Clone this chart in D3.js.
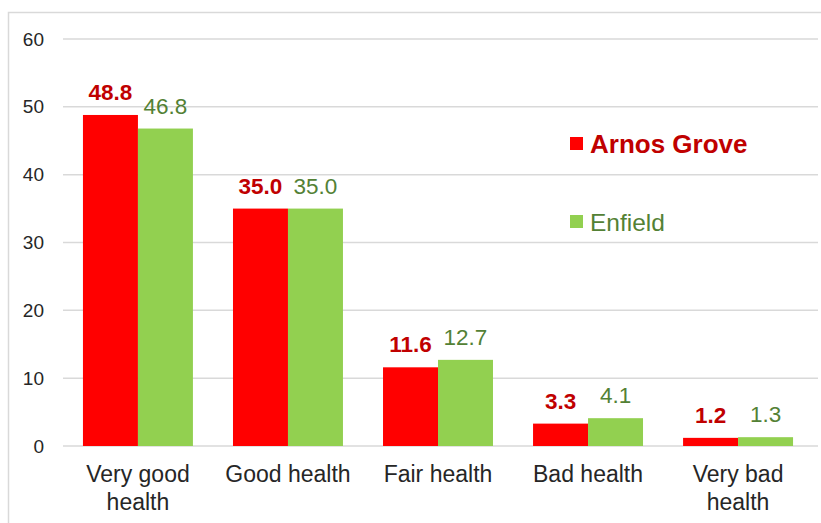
<!DOCTYPE html>
<html>
<head>
<meta charset="utf-8">
<script src="https://cdn.jsdelivr.net/npm/d3@7"></script>
<style>
  body { margin: 0; background: #fff; }
  svg { display: block; font-family: "Liberation Sans", Arial, sans-serif; }
</style>
</head>
<body>
<div id="chart"></div>
<script>
// data
var categories = ['Very good health', 'Good health', 'Fair health', 'Bad health', 'Very bad health'];
var categoryLines = [['Very good', 'health'], ['Good health'], ['Fair health'], ['Bad health'], ['Very bad', 'health']];
var seriesNames = ['Arnos Grove', 'Enfield'];
var arnosGrove = [48.8, 35.0, 11.6, 3.3, 1.2];
var enfield = [46.8, 35.0, 12.7, 4.1, 1.3];
var yTicks = [0, 10, 20, 30, 40, 50, 60];

var attrs = {
    svgWidth: 821,
    svgHeight: 523,
    plotLeft: 63,
    plotRight: 813,
    plotTop: 39,
    plotBottom: 446,
    barColors: ['#ff0000', '#92d050'],
    labelColors: ['#c00000', '#538135']
};

var svg = d3.select('#chart')
    .append('svg')
    .attr('width', attrs.svgWidth)
    .attr('height', attrs.svgHeight);

// outer frame
svg.append('rect')
    .attr('x', 8.5)
    .attr('y', 12.5)
    .attr('width', 900)
    .attr('height', 600)
    .attr('fill', 'none')
    .attr('stroke', '#d9d9d9')
    .attr('stroke-width', 1.5);

var x = d3.scaleBand()
    .domain(categories)
    .range([attrs.plotLeft, attrs.plotRight])
    .paddingInner(0.267)
    .paddingOuter(0.133);

var xSub = d3.scaleBand()
    .domain(seriesNames)
    .range([0, x.bandwidth()]);

var y = d3.scaleLinear()
    .domain([0, 60])
    .range([attrs.plotBottom, attrs.plotTop]);

// gridlines
svg.append('g')
    .selectAll('line')
    .data(yTicks)
    .enter()
    .append('line')
    .attr('x1', attrs.plotLeft)
    .attr('x2', attrs.plotRight + 5)
    .attr('y1', function (d) { return y(d); })
    .attr('y2', function (d) { return y(d); })
    .attr('stroke', '#d9d9d9')
    .attr('stroke-width', 1.5);

// y axis labels
var yAxis = d3.axisLeft(y).tickValues(yTicks).tickSize(0).tickPadding(0);
var yg = svg.append('g')
    .attr('transform', 'translate(44,0)')
    .call(yAxis);
yg.select('.domain').remove();
yg.selectAll('text')
    .attr('font-size', 19)
    .attr('font-family', '"Liberation Sans", Arial, sans-serif')
    .attr('fill', '#262626');

var series = [arnosGrove, enfield];

series.forEach(function (vals, si) {
    var g = svg.append('g');
    g.selectAll('rect')
        .data(vals)
        .enter()
        .append('rect')
        .attr('x', function (d, i) { return x(categories[i]) + xSub(seriesNames[si]); })
        .attr('y', function (d) { return y(d); })
        .attr('width', xSub.bandwidth())
        .attr('height', function (d) { return y(0) - y(d); })
        .attr('fill', attrs.barColors[si]);

    g.selectAll('text')
        .data(vals)
        .enter()
        .append('text')
        .attr('x', function (d, i) { return x(categories[i]) + xSub(seriesNames[si]) + xSub.bandwidth() / 2; })
        .attr('y', function (d) { return y(d) - 15; })
        .attr('text-anchor', 'middle')
        .attr('font-size', 22.5)
        .attr('font-weight', si === 0 ? 'bold' : 'normal')
        .attr('fill', attrs.labelColors[si])
        .text(function (d) { return d.toFixed(1); });
});

// category labels
var cats = svg.append('g');
categories.forEach(function (c, i) {
    var t = cats.append('text')
        .attr('x', x(c) + x.bandwidth() / 2)
        .attr('y', 482)
        .attr('text-anchor', 'middle')
        .attr('font-size', 23)
        .attr('fill', '#262626');
    categoryLines[i].forEach(function (line, li) {
        t.append('tspan')
            .attr('x', x(c) + x.bandwidth() / 2)
            .attr('dy', li === 0 ? 0 : 28)
            .text(line);
    });
});

// legend
var legendY = [144, 222];
seriesNames.forEach(function (name, si) {
    svg.append('rect')
        .attr('x', 570)
        .attr('y', legendY[si] - 7)
        .attr('width', 13)
        .attr('height', 13)
        .attr('fill', attrs.barColors[si]);
    svg.append('text')
        .attr('x', 590)
        .attr('y', legendY[si] + 9)
        .attr('font-size', si === 0 ? 26 : 24.5)
        .attr('font-weight', si === 0 ? 'bold' : 'normal')
        .attr('fill', attrs.labelColors[si])
        .text(name);
});
</script>
</body>
</html>
